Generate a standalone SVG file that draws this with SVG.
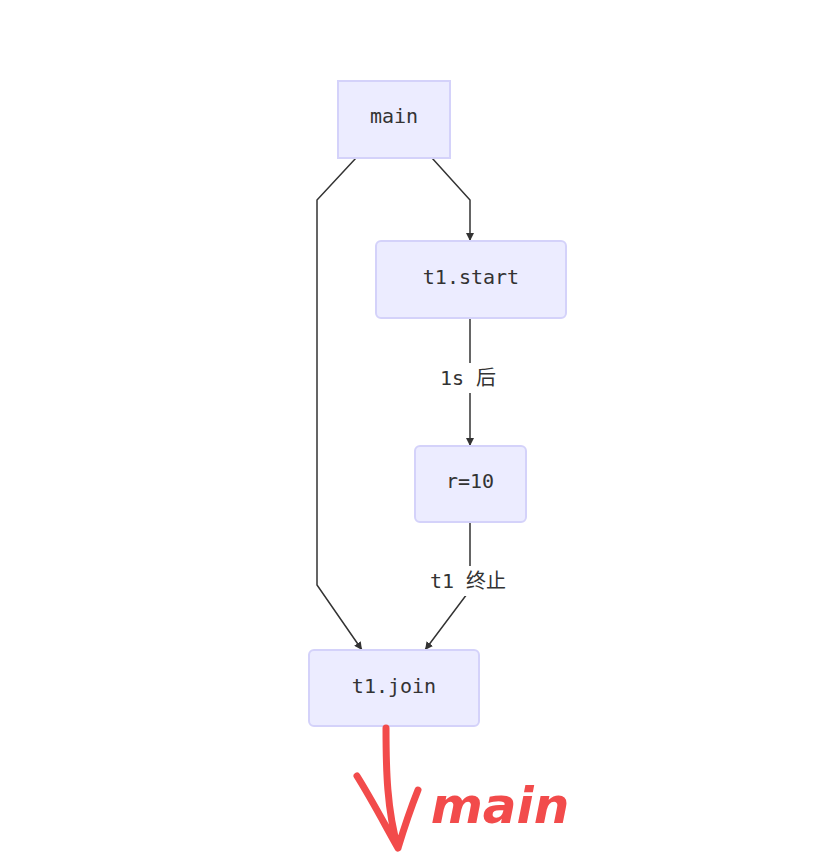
<svg xmlns="http://www.w3.org/2000/svg" width="816" height="861" viewBox="0 0 816 861">
<style>
.node rect{fill:#ececff;stroke:#d4d2fa;stroke-width:2}
.node text,.lbl{font-family:"DejaVu Sans Mono","Noto Sans CJK SC",monospace;font-size:20px;fill:#333;text-anchor:middle;dominant-baseline:central}
.edge{fill:none;stroke:#333;stroke-width:1.5}
.hand{fill:none;stroke:#f24b4b;stroke-width:7;stroke-linecap:round;stroke-linejoin:round}
</style>
<defs><marker id="ah" viewBox="0 0 10 10" refX="10" refY="5" markerWidth="8" markerHeight="8" markerUnits="userSpaceOnUse" orient="auto"><path d="M0,0L10,5L0,10z" fill="#333"/></marker></defs>
<rect width="816" height="861" fill="#fff"/>
<g id="connectors">
<path class="edge" d="M356,158L317,200V585L362,650" marker-end="url(#ah)"/>
<path class="edge" d="M432,158L470,200V241" marker-end="url(#ah)"/>
<path class="edge" d="M470,318V446" marker-end="url(#ah)"/>
<path class="edge" d="M470,522V590L425,650" marker-end="url(#ah)"/>
<rect x="422" y="363" width="88" height="30" fill="#fff"/>
<text class="lbl" x="468" y="378">1s 后</text>
<rect x="412" y="566" width="112" height="30" fill="#fff"/>
<text class="lbl" x="468" y="581">t1 终止</text>
</g>
<g id="main" class="node"><rect x="338" y="81" width="112" height="77"/><text x="394" y="116">main</text></g>
<g id="t1start" class="node"><rect x="376" y="241" width="190" height="77" rx="5"/><text x="471" y="277">t1.start</text></g>
<g id="r10" class="node"><rect x="415" y="446" width="111" height="76" rx="5"/><text x="470" y="481">r=10</text></g>
<g id="t1join" class="node"><rect x="309" y="650" width="170" height="76" rx="5"/><text x="394" y="686">t1.join</text></g>
<g id="annotation">
<path class="hand" d="M386,728C386,770 387,810 398,848M357,776C372,800 385,825 398,848C405,825 412,805 418,790"/>
<text x="500" y="823" font-family="DejaVu Sans" font-size="50" font-weight="bold" font-style="italic" fill="#f24b4b" text-anchor="middle">main</text>
</g>
</svg>
